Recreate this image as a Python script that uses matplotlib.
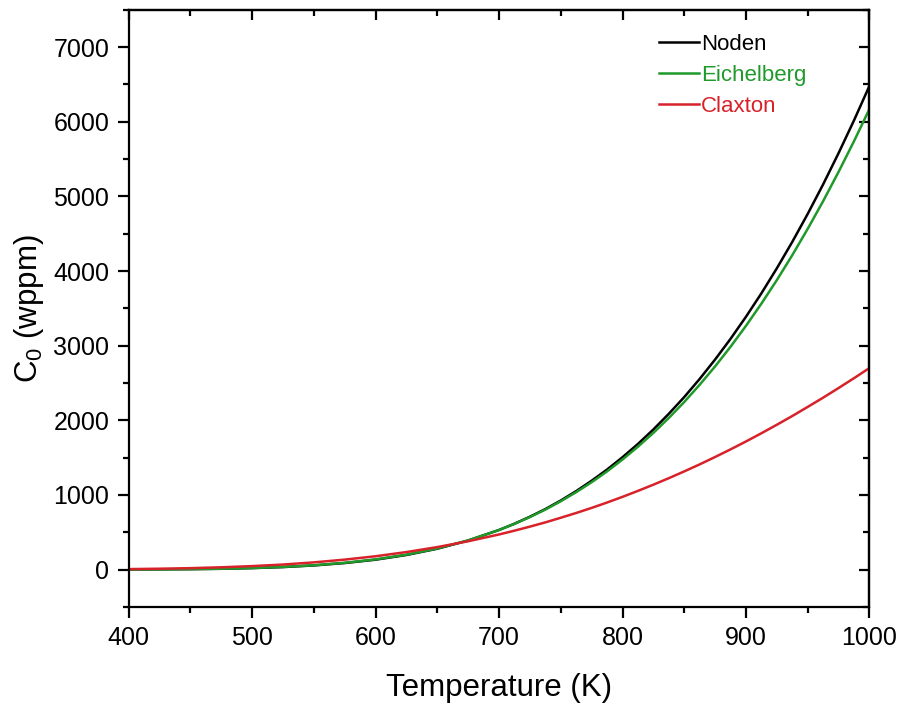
import matplotlib
matplotlib.use("Agg")
import matplotlib.pyplot as plt
from matplotlib.ticker import MultipleLocator

plt.rcParams['font.family'] = ['Liberation Sans', 'DejaVu Sans']
plt.rcParams['mathtext.default'] = 'regular'

temperature = [400, 425, 450, 475, 500, 525, 550, 575, 600, 625, 650, 675, 700,
               712.5, 725, 737.5, 750, 762.5, 775, 787.5, 800, 812.5, 825, 837.5,
               850, 862.5, 875, 887.5, 900, 912.5, 925, 937.5, 950, 962.5, 975,
               987.5, 1000]
noden = [1, 2.4, 5.1, 10, 19, 33, 55, 87, 132, 195, 279, 389, 530,
         614, 708, 810, 925, 1051, 1190, 1340, 1505, 1683, 1877, 2087,
         2311, 2554, 2814, 3091, 3387, 3701, 4036, 4390, 4765, 5161, 5579,
         6018, 6480]
eichelberg = [1.1, 2.7, 5.6, 11, 20, 35, 57, 90, 136, 199, 282, 391, 530,
              612, 703, 803, 915, 1037, 1170, 1315, 1474, 1646, 1831, 2031,
              2245, 2476, 2722, 2985, 3265, 3563, 3878, 4212, 4565, 4936, 5328,
              5739, 6170]
claxton = [6, 11, 18.5, 30, 46, 67, 96, 133, 178, 234, 301, 379, 470,
           521, 575, 632, 694, 758, 826, 898, 974, 1054, 1137, 1224,
           1315, 1409, 1508, 1610, 1716, 1826, 1940, 2057, 2179, 2303, 2432,
           2564, 2700]

series_names = ['Noden', 'Eichelberg', 'Claxton']
colors = ['#000000', '#1f9a2a', '#d8222a']

fig = plt.figure(figsize=(9, 7.04), dpi=100)
ax = fig.add_axes([0.143, 0.138, 0.823, 0.848])

for vals, name, c in zip([noden, eichelberg, claxton], series_names, colors):
    ax.plot(temperature, vals, color=c, lw=1.8, label=name)

ax.set_xlim(400, 1000)
ax.set_ylim(-500, 7500)
ax.xaxis.set_major_locator(MultipleLocator(100))
ax.xaxis.set_minor_locator(MultipleLocator(50))
ax.yaxis.set_major_locator(MultipleLocator(1000))
ax.yaxis.set_minor_locator(MultipleLocator(500))

for s in ax.spines.values():
    s.set_linewidth(1.6)

ax.tick_params(which='both', direction='out', width=1.6, labelsize=18,
               top=False, right=False)
ax.tick_params(which='major', length=8)
ax.tick_params(which='minor', length=4.5)
ax.tick_params(axis='x', which='major', pad=6)
ax.tick_params(axis='y', which='major', pad=6)

# mirrored inward ticks on top and right
axt = ax.secondary_xaxis('top')
axt.xaxis.set_major_locator(MultipleLocator(100))
axt.xaxis.set_minor_locator(MultipleLocator(50))
axt.tick_params(which='both', direction='in', width=1.6, labeltop=False)
axt.tick_params(which='major', length=7)
axt.tick_params(which='minor', length=4)
axr = ax.secondary_yaxis('right')
axr.yaxis.set_major_locator(MultipleLocator(1000))
axr.yaxis.set_minor_locator(MultipleLocator(500))
axr.tick_params(which='both', direction='in', width=1.6, labelright=False)
axr.tick_params(which='major', length=7)
axr.tick_params(which='minor', length=4)
axt.spines['top'].set_linewidth(1.6)
axr.spines['right'].set_linewidth(1.6)

ax.set_xlabel('Temperature (K)', fontsize=22.5, labelpad=16)
ax.set_ylabel('C$_0$ (wppm)', fontsize=22.5, labelpad=5)

ax.legend(loc='upper right', bbox_to_anchor=(0.93, 0.978), frameon=False,
          fontsize=16, handlelength=1.8, handletextpad=0.1,
          labelspacing=0.45, borderpad=0, labelcolor='linecolor')

fig.savefig('out.png', dpi=100)
